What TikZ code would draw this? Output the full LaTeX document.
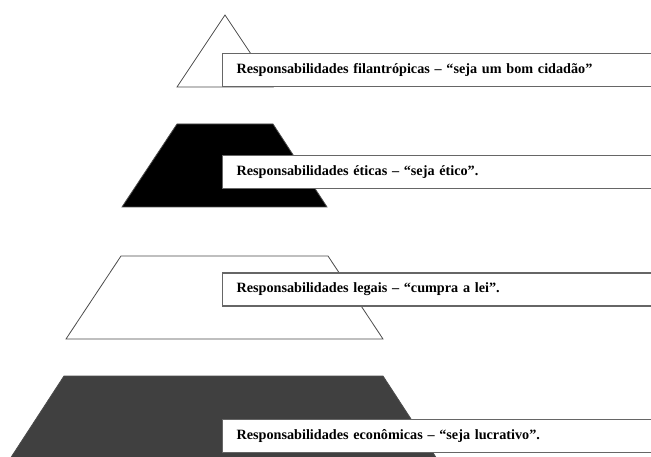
\documentclass[tikz,border=0pt]{standalone}
\usepackage{fontspec}
\setmainfont{Liberation Serif}

\begin{document}
\begin{tikzpicture}[x=1pt,y=-1pt,
	level/.style={draw=black!70, line width=0.8pt},
	tag/.style={draw=black!60, line width=1.2pt, fill=white, anchor=west,
		minimum height=33pt, text width=420pt, inner xsep=14pt,
		font=\bfseries\fontsize{14.2}{16}\selectfont}]
	\useasboundingbox (0,0) rectangle (651,457);
	\clip (0,0) rectangle (651,457);

	% pyramid levels, top to bottom
	\draw[level, fill=white] (225,15) -- (177,87) -- (273,87) -- cycle;
	\draw[level, fill=black] (177,124) -- (273,124) -- (327,207) -- (122,207) -- cycle;
	\draw[level, fill=white] (121,256) -- (328,256) -- (383,339) -- (66,339) -- cycle;
	\draw[level, fill=black!75] (64,376) -- (383,376) -- (439,462) -- (8,462) -- cycle;

	\node[tag] (fil) at (222,70) {Responsabilidades filantrópicas – “seja um bom cidadão”};
	\node[tag] (eti) at (222,172) {Responsabilidades éticas – “seja ético”.};
	\node[tag] (leg) at (222,289.5) {Responsabilidades legais – “cumpra a lei”.};
	\node[tag] (eco) at (222,436) {Responsabilidades econômicas – “seja lucrativo”.};
\end{tikzpicture}
\end{document}
